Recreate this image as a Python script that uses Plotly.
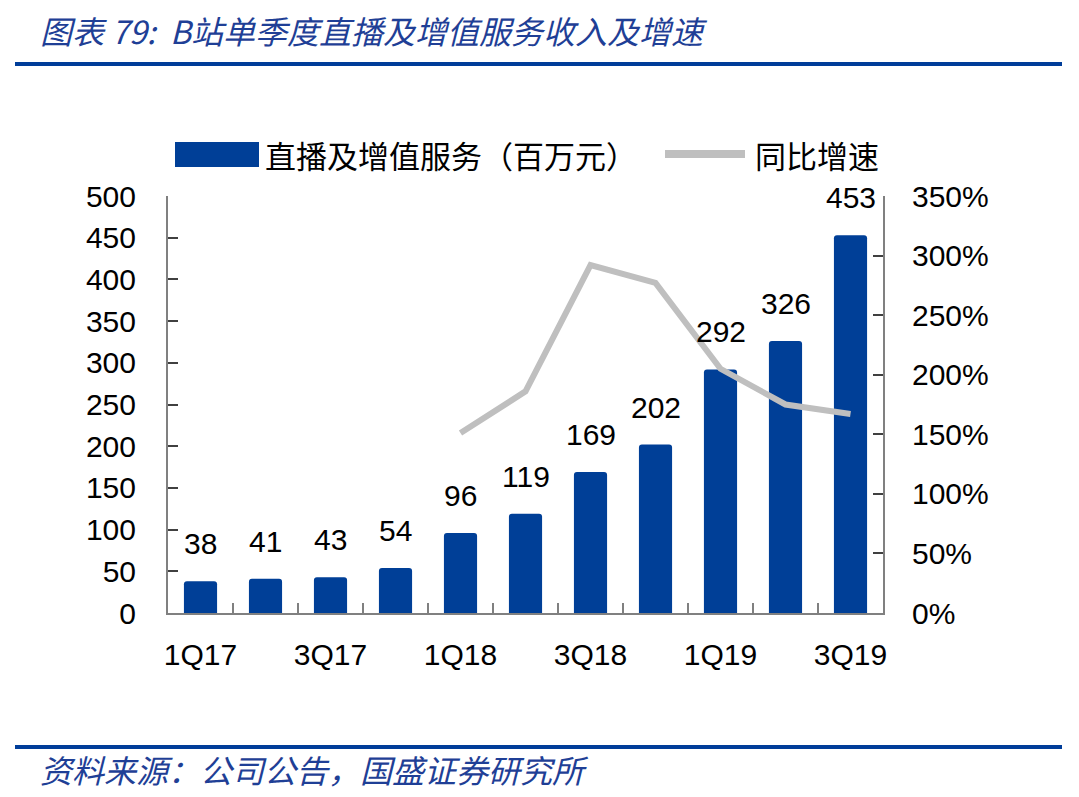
import plotly.graph_objects as go

# B站单季度直播及增值服务收入（百万元）及同比增速
quarters = ["1Q17", "2Q17", "3Q17", "4Q17", "1Q18", "2Q18",
            "3Q18", "4Q18", "1Q19", "2Q19", "3Q19"]
revenue = [38, 41, 43, 54, 96, 119, 169, 202, 292, 326, 453]
growth_quarters = ["1Q18", "2Q18", "3Q18", "4Q18", "1Q19", "2Q19", "3Q19"]
growth = [151, 186, 292, 277, 205, 175, 167]
tick_labels = ["1Q17", "", "3Q17", "", "1Q18", "", "3Q18", "", "1Q19", "", "3Q19"]

BLUE = "#003F97"
GREY = "#BFBFBF"
AXIS = "#808080"
NUM_FONT = "Liberation Sans, Arial, Noto Sans CJK SC"
CJK_FONT = "Noto Sans CJK SC"

# the page body adds an 8px margin, so the figure is shrunk and shifted by that much
OFF = 8
W, H = 1079 - OFF, 797 - OFF
# plot area, in window pixels
L, R, T, B = 168, 883, 196, 613


def px(x):
    return (x - L) / (R - L)


def py(y):
    return (B - y) / (B - T)


fig = go.Figure()
fig.add_trace(go.Bar(x=quarters, y=revenue, width=0.51,
                     marker=dict(color=BLUE, cornerradius=3, line=dict(width=0)),
                     name="直播及增值服务（百万元）"))
fig.add_trace(go.Scatter(x=growth_quarters, y=growth, yaxis="y2", mode="lines",
                         line=dict(color=GREY, width=6), name="同比增速"))

# data labels above bars
annotations = []
for q, v in zip(quarters, revenue):
    annotations.append(dict(x=q, y=v, xref="x", yref="y", text=str(v), showarrow=False,
                            yanchor="bottom", yshift=19,
                            font=dict(family=NUM_FONT, size=30, color="black")))

# title / footer / legend texts
annotations += [
    dict(x=px(38), y=py(30), xref="paper", yref="paper", xanchor="left", yanchor="middle",
         text="<i>图表 79:  B站单季度直播及增值服务收入及增速</i>", showarrow=False,
         font=dict(family=CJK_FONT, size=32, color="#1F3F96")),
    dict(x=px(38), y=py(769), xref="paper", yref="paper", xanchor="left", yanchor="middle",
         text="<i>资料来源：公司公告，国盛证券研究所</i>", showarrow=False,
         font=dict(family=CJK_FONT, size=32, color="#1F3F96")),
    dict(x=px(263), y=py(154), xref="paper", yref="paper", xanchor="left", yanchor="middle",
         text="直播及增值服务（百万元）", showarrow=False,
         font=dict(family=CJK_FONT, size=31, color="black")),
    dict(x=px(753), y=py(154), xref="paper", yref="paper", xanchor="left", yanchor="middle",
         text="同比增速", showarrow=False,
         font=dict(family=CJK_FONT, size=31, color="black")),
]

shapes = [
    dict(type="line", xref="paper", yref="paper", x0=px(15), x1=px(1062), y0=py(64), y1=py(64),
         line=dict(color="#003D99", width=4)),
    dict(type="line", xref="paper", yref="paper", x0=px(15), x1=px(1062), y0=py(747), y1=py(747),
         line=dict(color="#003D99", width=4)),
    dict(type="rect", xref="paper", yref="paper", x0=px(175), x1=px(259), y0=py(167), y1=py(142),
         fillcolor=BLUE, line=dict(width=0)),
    dict(type="line", xref="paper", yref="paper", x0=px(665), x1=px(745), y0=py(154), y1=py(154),
         line=dict(color=GREY, width=8)),
]

fig.update_layout(
    width=W, height=H,
    margin=dict(l=L - OFF, r=W - (R - OFF), t=T - OFF, b=H - (B - OFF), autoexpand=False),
    paper_bgcolor="white", plot_bgcolor="white",
    showlegend=False,
    annotations=annotations,
    shapes=shapes,
    xaxis=dict(type="category", range=[-0.5, 10.5], tickmode="array",
               tickvals=quarters, ticktext=tick_labels, tickangle=0,
               showline=True, linecolor=AXIS, linewidth=2,
               ticks="inside", tickson="boundaries", ticklen=10, tickcolor=AXIS, tickwidth=2,
               showgrid=False, ticklabelstandoff=14,
               tickfont=dict(family=NUM_FONT, size=30, color="black")),
    yaxis=dict(range=[0, 500], dtick=50, showline=True, linecolor=AXIS, linewidth=2,
               ticks="inside", ticklen=10, tickcolor="#404040", tickwidth=1.5,
               showgrid=False, zeroline=False, ticklabelstandoff=24,
               tickfont=dict(family=NUM_FONT, size=30, color="black")),
    yaxis2=dict(range=[0, 350], dtick=50, ticksuffix="%", overlaying="y", side="right",
                showline=True, linecolor=AXIS, linewidth=2,
                ticks="inside", ticklen=10, tickcolor="#404040", tickwidth=1.5,
                showgrid=False, zeroline=False, ticklabelstandoff=21,
                tickfont=dict(family=NUM_FONT, size=30, color="black")),
)

fig.write_html("out.html")
